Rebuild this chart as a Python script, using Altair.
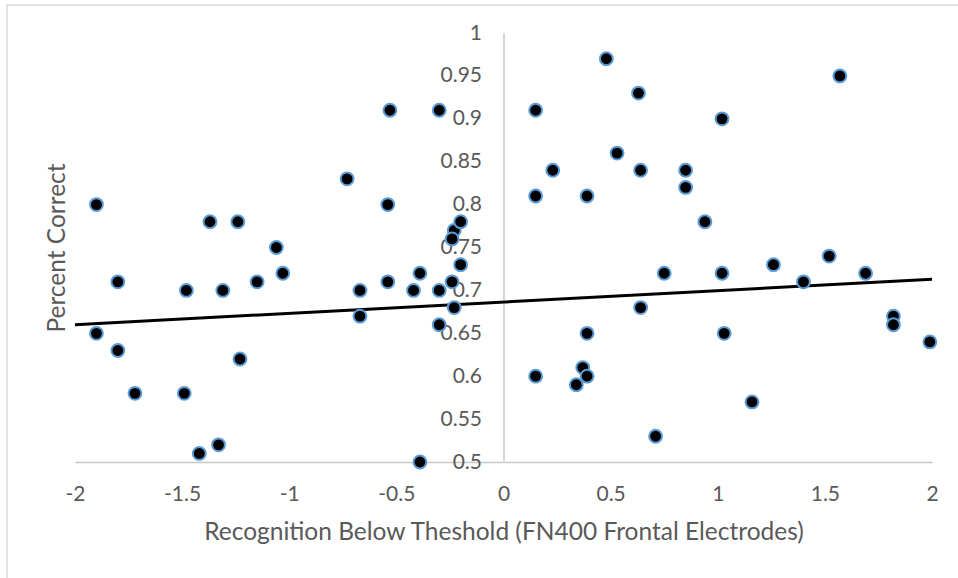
import altair as alt
import pandas as pd

# Recognition below threshold (FN400 frontal electrodes)
x_vals = [-1.90, -1.90, -1.80, -1.80, -1.72, -1.48, -1.49, -1.37, -1.31, -1.42,
          -1.33, -1.24, -1.23, -1.15, -1.06, -1.03,
          -0.73, -0.54, -0.67, -0.67, -0.54, -0.42, -0.39, -0.30, -0.30, -0.23,
          -0.24, -0.20, -0.20, -0.24, -0.23, -0.39, -0.53, -0.30,
          0.48, 0.63, 0.15, 1.02, 0.53, 0.23, 0.64, 0.85, 0.85, 0.15,
          0.39, 0.94, 0.75, 1.02, 0.64, 0.39, 1.03, 0.15, 0.37, 0.39,
          0.34, 0.71, 1.16, 1.57, 1.26, 1.40, 1.52, 1.69, 1.82, 1.82, 1.99]
# Percent correct
y_vals = [0.80, 0.65, 0.71, 0.63, 0.58, 0.70, 0.58, 0.78, 0.70, 0.51,
          0.52, 0.78, 0.62, 0.71, 0.75, 0.72,
          0.83, 0.80, 0.70, 0.67, 0.71, 0.70, 0.72, 0.70, 0.66, 0.77,
          0.76, 0.78, 0.73, 0.71, 0.68, 0.50, 0.91, 0.91,
          0.97, 0.93, 0.91, 0.90, 0.86, 0.84, 0.84, 0.84, 0.82, 0.81,
          0.81, 0.78, 0.72, 0.72, 0.68, 0.65, 0.65, 0.60, 0.61, 0.60,
          0.59, 0.53, 0.57, 0.95, 0.73, 0.71, 0.74, 0.72, 0.67, 0.66, 0.64]

# Linear trendline as drawn in the reference (end points)
trend_x = [-2, 2]
trend_y = [0.660, 0.713]

x_ticks = [-2, -1.5, -1, -0.5, 0, 0.5, 1, 1.5, 2]
y_ticks = [0.5, 0.55, 0.6, 0.65, 0.7, 0.75, 0.8, 0.85, 0.9, 0.95, 1]

x_title = "Recognition Below Theshold (FN400 Frontal Electrodes)"
y_title = "Percent Correct"

df = pd.DataFrame({"x": x_vals, "y": y_vals})
df_trend = pd.DataFrame({"x": trend_x, "y": trend_y})

W, H = 857, 429
FONT = "Lato"
GREY = "#595959"
AXIS_GREY = "#C8C8C8"

x_scale = alt.Scale(domain=[-2, 2], nice=False, zero=False)
y_scale = alt.Scale(domain=[0.5, 1], nice=False, zero=False)

x_axis = alt.Axis(
    values=x_ticks, labelExpr="'' + datum.value", ticks=False, grid=False,
    domainColor=AXIS_GREY, domainWidth=1.5,
    labelFont=FONT, labelFontSize=21, labelColor=GREY, labelPadding=21,
    labelOverlap=False, labelFlush=False,
    title=x_title, titleFont=FONT, titleFontSize=24.5, titleColor=GREY,
    titleFontWeight="normal", titleX=W / 2, titleY=70,
    titleBaseline="middle", titleAlign="center",
)
y_axis = alt.Axis(
    orient="left", offset=-428.5,
    values=y_ticks, labelExpr="'' + datum.value", ticks=False, grid=False,
    domainColor=AXIS_GREY, domainWidth=1.5,
    labelFont=FONT, labelFontSize=21, labelColor=GREY, labelPadding=22,
    labelOverlap=False, labelFlush=False,
    title=y_title, titleFont=FONT, titleFontSize=24.5, titleColor=GREY,
    titleFontWeight="normal", titleX=-446.5, titleY=H / 2,
    titleBaseline="middle", titleAlign="center", titleAngle=-90,
)

border = alt.Chart(pd.DataFrame({"a": [0]})).mark_rect(
    fillOpacity=0, stroke="#D9D9D9", strokeWidth=1.5
).encode(x=alt.value(-68), x2=alt.value(960), y=alt.value(-28), y2=alt.value(600))

trend = alt.Chart(df_trend).mark_line(color="black", strokeWidth=3).encode(
    x=alt.X("x:Q", scale=x_scale, axis=x_axis),
    y=alt.Y("y:Q", scale=y_scale, axis=y_axis),
)

points = alt.Chart(df).mark_circle(
    color="black", fill="black", stroke="#5B9BD5", strokeWidth=2, size=165, opacity=1
).encode(
    x=alt.X("x:Q", scale=x_scale),
    y=alt.Y("y:Q", scale=y_scale),
)

chart = alt.layer(border, trend, points).properties(
    width=W, height=H,
    autosize=alt.AutoSizeParams(type="none"),
    padding={"left": 75, "top": 33, "right": 26, "bottom": 116},
    background="white",
).configure_view(stroke="transparent")

chart.save("out.html", embed_options={"renderer": "svg", "actions": False})
